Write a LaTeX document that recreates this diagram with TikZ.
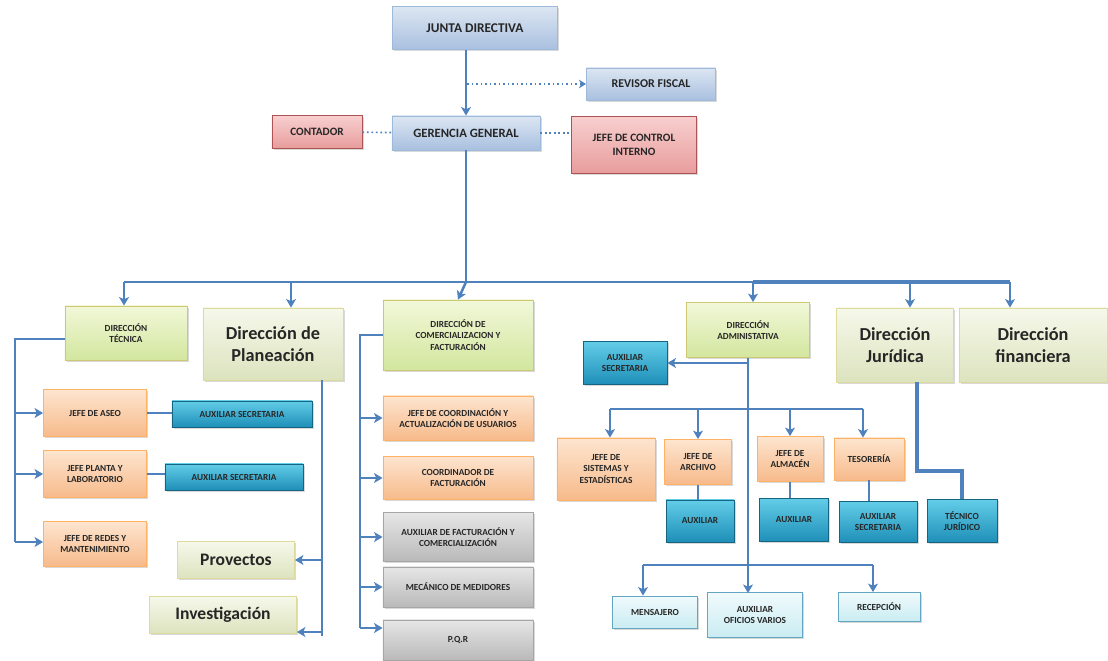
\documentclass[tikz,border=0pt]{standalone}
\usepackage{fontspec}
\setmainfont{Carlito}
\usepackage{tikz}
\usetikzlibrary{shapes,arrows,arrows.meta,shadows}
\definecolor{linecol}{HTML}{4F81BD}
\definecolor{bluetop}{HTML}{DCE6F2}
\definecolor{bluebot}{HTML}{A9C0E0}
\definecolor{redtop}{HTML}{F8CFCF}
\definecolor{redbot}{HTML}{E89C9C}
\definecolor{limetop}{HTML}{F1F8D9}
\definecolor{limebot}{HTML}{D3E69E}
\definecolor{paletop}{HTML}{F6F8EA}
\definecolor{palebot}{HTML}{DCE3BE}
\definecolor{orangetop}{HTML}{FDE5CF}
\definecolor{orangebot}{HTML}{F7BA8B}
\definecolor{tealtop}{HTML}{63CDE8}
\definecolor{tealbot}{HTML}{1E8FB8}
\definecolor{graytop}{HTML}{E6E6E6}
\definecolor{graybot}{HTML}{B9B9B9}
\definecolor{cyantop}{HTML}{F0FAFC}
\definecolor{cyanbot}{HTML}{C9ECF2}
\tikzstyle{orgbox} = [rectangle, draw, line width=0.6pt, align=center, inner sep=1pt, text=black!85, font=\bfseries\fontsize{6.6}{8}\selectfont, drop shadow={shadow xshift=1.2pt, shadow yshift=-1.2pt, opacity=0.3}]
\tikzstyle{bluebox} = [orgbox, draw=linecol!55, top color=bluetop, bottom color=bluebot, font=\bfseries\fontsize{9.5}{11}\selectfont]
\tikzstyle{redbox} = [orgbox, draw=red!35!gray, top color=redtop, bottom color=redbot, font=\bfseries\fontsize{8}{10}\selectfont]
\tikzstyle{limebox} = [orgbox, draw=olive!45, top color=limetop, bottom color=limebot]
\tikzstyle{palebox} = [orgbox, draw=olive!30, top color=paletop, bottom color=palebot, font=\bfseries\fontsize{13}{15.5}\selectfont]
\tikzstyle{orangebox} = [orgbox, draw=orange!60, top color=orangetop, bottom color=orangebot]
\tikzstyle{tealbox} = [orgbox, draw=tealbot!70!black, top color=tealtop, bottom color=tealbot]
\tikzstyle{graybox} = [orgbox, draw=gray!70, top color=graytop, bottom color=graybot]
\tikzstyle{cyanbox} = [orgbox, draw=cyan!50!gray, top color=cyantop, bottom color=cyanbot]
\tikzstyle{line} = [draw, line width=1.8pt, color=linecol]
\tikzstyle{arrowline} = [line, -{Stealth[length=6pt, width=7pt, inset=1.5pt]}]
\tikzstyle{thinline} = [draw, line width=1.3pt, color=linecol]
\tikzstyle{thickline} = [draw, line width=2.8pt, color=linecol]
\tikzstyle{dotline} = [draw, line width=1.2pt, dotted, color=linecol]

\begin{document}
\begin{tikzpicture}[x=0.025cm, y=-0.025cm]
	\useasboundingbox (0,0) rectangle (1108,661);

	\node [bluebox, minimum width=4.125cm, minimum height=1.075cm] (junta) at (475,28) {JUNTA DIRECTIVA};
	\node [bluebox, minimum width=3.225cm, minimum height=0.8cm, font=\bfseries\fontsize{8.5}{10}\selectfont] (revisor) at (651,84) {REVISOR FISCAL};
	\node [redbox, minimum width=2.25cm, minimum height=0.825cm] (contador) at (317,132) {CONTADOR};
	\node [bluebox, minimum width=3.7cm, minimum height=0.85cm, font=\bfseries\fontsize{9}{10}\selectfont] (gerencia) at (466,133) {GERENCIA GENERAL};
	\node [redbox, minimum width=3.125cm, minimum height=1.425cm] (control) at (634,145) {JEFE DE CONTROL\\INTERNO};

	\node [limebox, minimum width=3.05cm, minimum height=1.35cm] (tecnica) at (126,333) {DIRECCIÓN\\TÉCNICA};
	\node [palebox, minimum width=3.5cm, minimum height=1.8cm] (planeacion) at (273,344) {Dirección de\\Planeación};
	\node [limebox, minimum width=3.75cm, minimum height=1.75cm] (comercial) at (458,335) {DIRECCIÓN DE\\COMERCIALIZACION Y\\FACTURACIÓN};
	\node [limebox, minimum width=3.075cm, minimum height=1.375cm] (admin) at (748,330) {DIRECCIÓN\\ADMINISTATIVA};
	\node [palebox, minimum width=2.925cm, minimum height=1.85cm] (juridica) at (895,345) {Dirección\\Jurídica};
	\node [palebox, minimum width=3.7cm, minimum height=1.85cm] (financiera) at (1033,345) {Dirección\\financiera};

	\node [orangebox, minimum width=2.575cm, minimum height=1.175cm] (aseo) at (95,413) {JEFE DE ASEO};
	\node [tealbox, minimum width=3.5cm, minimum height=0.65cm] (auxsec1) at (242,414) {AUXILIAR SECRETARIA};
	\node [orangebox, minimum width=2.575cm, minimum height=1.175cm] (planta) at (95,474) {JEFE PLANTA Y\\LABORATORIO};
	\node [tealbox, minimum width=3.45cm, minimum height=0.65cm] (auxsec2) at (234,477) {AUXILIAR SECRETARIA};
	\node [orangebox, minimum width=2.575cm, minimum height=1.125cm] (redes) at (95,544) {JEFE DE REDES Y\\MANTENIMIENTO};
	\node [palebox, minimum width=2.925cm, minimum height=0.925cm, font=\bfseries\fontsize{12.5}{14}\selectfont] (provectos) at (236,560) {Provectos};
	\node [palebox, minimum width=3.675cm, minimum height=0.925cm, font=\bfseries\fontsize{12.5}{14}\selectfont] (investigacion) at (223,615) {Investigación};

	\node [orangebox, minimum width=3.75cm, minimum height=1.1cm] (jcoord) at (458,418) {JEFE DE COORDINACIÓN Y\\ACTUALIZACIÓN DE USUARIOS};
	\node [orangebox, minimum width=3.75cm, minimum height=1.075cm] (coordfact) at (458,478) {COORDINADOR DE\\FACTURACIÓN};
	\node [graybox, minimum width=3.75cm, minimum height=1.225cm] (auxfact) at (458,537) {AUXILIAR DE FACTURACIÓN Y\\COMERCIALIZACIÓN};
	\node [graybox, minimum width=3.75cm, minimum height=1.0cm] (mecanico) at (458,587) {MECÁNICO DE MEDIDORES};
	\node [graybox, minimum width=3.75cm, minimum height=1.0cm] (pqr) at (458,640) {P.Q.R};

	\node [tealbox, minimum width=2.1cm, minimum height=1.075cm] (auxadmin) at (625,363) {AUXILIAR\\SECRETARIA};
	\node [orangebox, minimum width=2.45cm, minimum height=1.55cm] (sistemas) at (606,469) {JEFE DE\\SISTEMAS Y\\ESTADÍSTICAS};
	\node [orangebox, minimum width=1.675cm, minimum height=1.125cm] (archivo) at (698,462) {JEFE DE\\ARCHIVO};
	\node [tealbox, minimum width=1.7cm, minimum height=1.05cm] (auxarch) at (700,521) {AUXILIAR};
	\node [orangebox, minimum width=1.65cm, minimum height=1.125cm] (almacen) at (790,459) {JEFE DE\\ALMACÉN};
	\node [tealbox, minimum width=1.725cm, minimum height=1.075cm] (auxalm) at (794,520) {AUXILIAR};
	\node [orangebox, minimum width=1.75cm, minimum height=1.05cm] (tesoreria) at (869,459) {TESORERÍA};
	\node [tealbox, minimum width=1.95cm, minimum height=1.025cm] (auxtes) at (878,522) {AUXILIAR\\SECRETARIA};
	\node [tealbox, minimum width=1.75cm, minimum height=1.075cm] (tecjur) at (962,521) {TÉCNICO\\JURÍDICO};
	\node [cyanbox, minimum width=2.125cm, minimum height=0.8cm] (mensajero) at (655,612) {MENSAJERO};
	\node [cyanbox, minimum width=2.375cm, minimum height=1.125cm] (oficios) at (755,615) {AUXILIAR\\OFICIOS VARIOS};
	\node [cyanbox, minimum width=2.05cm, minimum height=0.725cm] (recepcion) at (879,607) {RECEPCIÓN};

	\coordinate (rf) at (467,84);
	\coordinate (bl) at (124,282);
	\coordinate (bp) at (291,282);
	\coordinate (bc) at (466,282);
	\coordinate (ba) at (753,282);
	\coordinate (bj) at (910,282);
	\coordinate (bf) at (1010,282);
	\coordinate (t0) at (15,339);
	\coordinate (tb) at (15,542);
	\coordinate (pv) at (322,632);
	\coordinate (cv) at (360,628);
	\coordinate (av) at (748,593);
	\coordinate (sbl) at (610,409);
	\coordinate (sbr) at (863,409);
	\coordinate (j1) at (917,471);
	\coordinate (lbl) at (643,565);
	\coordinate (lbr) at (873,565);

	\path [arrowline] (gerencia.north |- junta.south) -- (gerencia.north);
	\path [dotline, -{Stealth[length=5pt, width=6pt, inset=1.5pt]}] (rf) -- (revisor.west);
	\path [dotline] (contador) -- (gerencia);
	\path [dotline] (gerencia.east) -- (gerencia.east -| control.west);
	\path [line] (gerencia) -- (bc);
	\path [line] (bl) -- (ba);
	\path [thickline] (ba) -- (bf);
	\path [arrowline] (bl) -- (bl |- tecnica.north);
	\path [arrowline] (bp) -- (bp |- planeacion.north);
	\path [arrowline] (bc) -- (comercial.north);
	\path [arrowline] (ba) -- (ba |- admin.north);
	\path [arrowline] (bj) -- (bj |- juridica.north);
	\path [arrowline] (bf) -- (bf |- financiera.north);

	\path [line] (tecnica.west |- t0) -- (t0) -- (tb);
	\path [arrowline] (t0 |- aseo.west) -- (aseo.west);
	\path [arrowline] (t0 |- planta.west) -- (planta.west);
	\path [arrowline] (tb) -- (redes.west |- tb);
	\path [thinline] (aseo.east) -- (aseo.east -| auxsec1.west);
	\path [thinline] (planta.east) -- (planta.east -| auxsec2.west);

	\path [line] (pv |- planeacion.south) -- ([yshift=-3pt]pv);
	\path [arrowline] (pv |- provectos.east) -- (provectos.east);
	\path [arrowline] (pv) -- (pv -| investigacion.east);

	\path [line] (comercial.west) -| (cv);
	\path [arrowline] (cv |- jcoord.west) -- (jcoord.west);
	\path [arrowline] (cv |- coordfact.west) -- (coordfact.west);
	\path [arrowline] (cv |- auxfact.west) -- (auxfact.west);
	\path [arrowline] (cv |- mecanico.west) -- (mecanico.west);
	\path [arrowline] (cv) -- (cv -| pqr.west);

	\path [arrowline] (admin.south -| av) -- (av);
	\path [arrowline] (av |- auxadmin.east) -- (auxadmin.east);
	\path [line] (sbl) -- (sbr);
	\path [arrowline] (sbl) -- (sbl |- sistemas.north);
	\path [arrowline] (archivo.north |- sbl) -- (archivo.north);
	\path [arrowline] (almacen.north |- sbl) -- (almacen.north);
	\path [arrowline] (sbr) -- (sbr |- tesoreria.north);
	\path [thinline] (archivo) -- (auxarch.north -| archivo);
	\path [thinline] (almacen) -- (auxalm.north -| almacen);
	\path [thinline] (tesoreria) -- (auxtes.north -| tesoreria);
	\path [thickline] (j1 |- juridica.south) -- (j1) -| (tecjur.north);
	\path [line] (lbl) -- (lbr);
	\path [arrowline] (lbl) -- (lbl |- mensajero.north);
	\path [arrowline] (lbr) -- (lbr |- recepcion.north);
\end{tikzpicture}
\end{document}
